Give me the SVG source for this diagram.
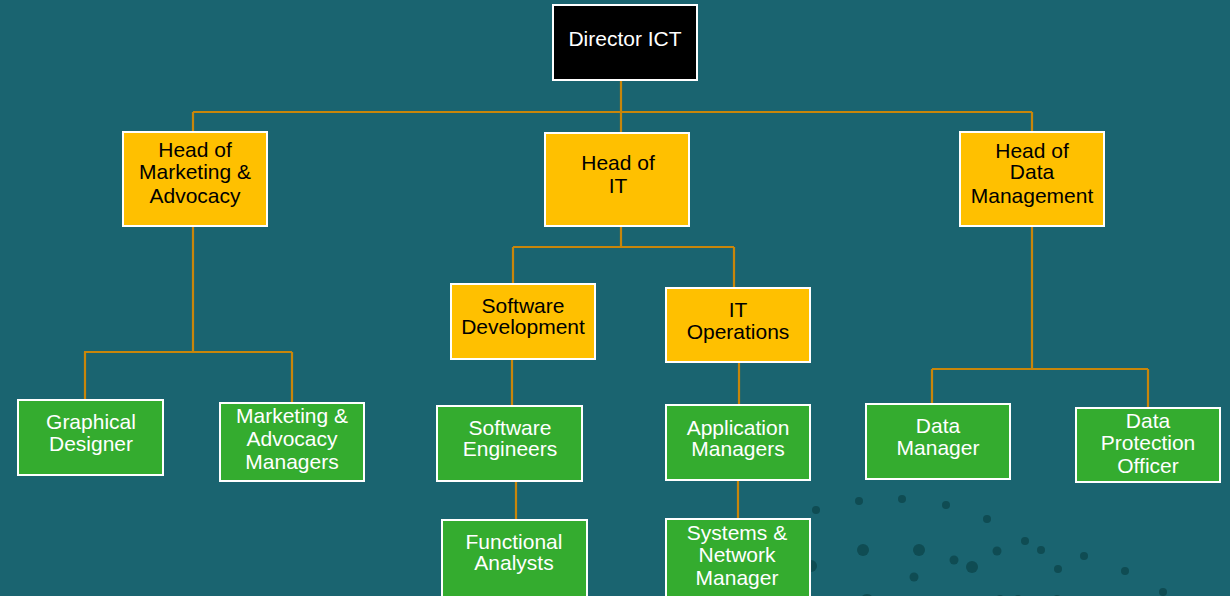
<svg xmlns="http://www.w3.org/2000/svg" width="1230" height="596" viewBox="0 0 1230 596">
<style>
.bx{stroke:#ffffff;stroke-width:2}
.y{fill:#FFC000}
.g{fill:#34AC2F}
.k{fill:#000000}
.t{font-family:"Liberation Sans",Arial,sans-serif;font-size:21px;text-anchor:middle}
.tb{fill:#000000}
.tw{fill:#ffffff}
.c{stroke:#C8860A;stroke-width:2.2;fill:none}
.d{fill:#0F4C53}
</style>
<rect x="0" y="0" width="1230" height="596" fill="#1A6470"/>
<g id="dots">
<circle class="d" cx="816" cy="510" r="4"/>
<circle class="d" cx="859" cy="501" r="4"/>
<circle class="d" cx="902" cy="499" r="4"/>
<circle class="d" cx="946" cy="505" r="4"/>
<circle class="d" cx="987" cy="519" r="4"/>
<circle class="d" cx="863" cy="550" r="6"/>
<circle class="d" cx="919" cy="550" r="6"/>
<circle class="d" cx="954" cy="560" r="4.5"/>
<circle class="d" cx="972" cy="567" r="6"/>
<circle class="d" cx="997" cy="551" r="4.5"/>
<circle class="d" cx="914" cy="577" r="4.5"/>
<circle class="d" cx="811" cy="566" r="6"/>
<circle class="d" cx="867" cy="601" r="7"/>
<circle class="d" cx="1000" cy="600" r="5"/>
<circle class="d" cx="1025" cy="541" r="4"/>
<circle class="d" cx="1041" cy="550" r="4"/>
<circle class="d" cx="1084" cy="556" r="4"/>
<circle class="d" cx="1058" cy="569" r="4"/>
<circle class="d" cx="1125" cy="571" r="4"/>
<circle class="d" cx="1163" cy="592" r="4"/>
<circle class="d" cx="1018" cy="600" r="5"/>
<circle class="d" cx="1057" cy="600" r="5"/>
</g>
<g id="connectors">
<path class="c" d="M621 80V133M193 112H1032M193 112V132M1032 112V132"/>
<path class="c" d="M193 226V352M84 352H292M85 352V400M292 352V403"/>
<path class="c" d="M621 226V247M513 247H734M513 247V284M734 247V288"/>
<path class="c" d="M512 359V406M739 362V405M516 481V520M738 480V519"/>
<path class="c" d="M1032 226V369M932 369H1148M932 369V404M1148 369V408"/>
</g>
<g id="director">
<rect class="bx k" x="553" y="5" width="144" height="75"/>
<text class="t tw" x="625" y="46">Director ICT</text>
</g>
<g id="head-marketing">
<rect class="bx y" x="123" y="132" width="144" height="94"/>
<text class="t tb" x="195" y="157">Head of</text>
<text class="t tb" x="195" y="179">Marketing &amp;</text>
<text class="t tb" x="195" y="203">Advocacy</text>
</g>
<g id="head-it">
<rect class="bx y" x="545" y="133" width="144" height="93"/>
<text class="t tb" x="618" y="170">Head of</text>
<text class="t tb" x="618" y="193">IT</text>
</g>
<g id="head-data">
<rect class="bx y" x="960" y="132" width="144" height="94"/>
<text class="t tb" x="1032" y="158">Head of</text>
<text class="t tb" x="1032" y="179">Data</text>
<text class="t tb" x="1032" y="203">Management</text>
</g>
<g id="software-development">
<rect class="bx y" x="451" y="284" width="144" height="75"/>
<text class="t tb" x="523" y="313">Software</text>
<text class="t tb" x="523" y="334">Development</text>
</g>
<g id="it-operations">
<rect class="bx y" x="666" y="288" width="144" height="74"/>
<text class="t tb" x="738" y="317">IT</text>
<text class="t tb" x="738" y="339">Operations</text>
</g>
<g id="graphical-designer">
<rect class="bx g" x="18" y="400" width="145" height="75"/>
<text class="t tw" x="91" y="429">Graphical</text>
<text class="t tw" x="91" y="451">Designer</text>
</g>
<g id="marketing-managers">
<rect class="bx g" x="220" y="403" width="144" height="78"/>
<text class="t tw" x="292" y="423">Marketing &amp;</text>
<text class="t tw" x="292" y="446">Advocacy</text>
<text class="t tw" x="292" y="469">Managers</text>
</g>
<g id="software-engineers">
<rect class="bx g" x="437" y="406" width="145" height="75"/>
<text class="t tw" x="510" y="435">Software</text>
<text class="t tw" x="510" y="456">Engineers</text>
</g>
<g id="application-managers">
<rect class="bx g" x="666" y="405" width="144" height="75"/>
<text class="t tw" x="738" y="435">Application</text>
<text class="t tw" x="738" y="456">Managers</text>
</g>
<g id="functional-analysts">
<rect class="bx g" x="442" y="520" width="145" height="80"/>
<text class="t tw" x="514" y="549">Functional</text>
<text class="t tw" x="514" y="570">Analysts</text>
</g>
<g id="systems-network-manager">
<rect class="bx g" x="666" y="519" width="144" height="81"/>
<text class="t tw" x="737" y="540">Systems &amp;</text>
<text class="t tw" x="737" y="562">Network</text>
<text class="t tw" x="737" y="585">Manager</text>
</g>
<g id="data-manager">
<rect class="bx g" x="866" y="404" width="144" height="75"/>
<text class="t tw" x="938" y="433">Data</text>
<text class="t tw" x="938" y="455">Manager</text>
</g>
<g id="data-protection-officer">
<rect class="bx g" x="1076" y="408" width="144" height="74"/>
<text class="t tw" x="1148" y="428">Data</text>
<text class="t tw" x="1148" y="450">Protection</text>
<text class="t tw" x="1148" y="473">Officer</text>
</g>
</svg>
